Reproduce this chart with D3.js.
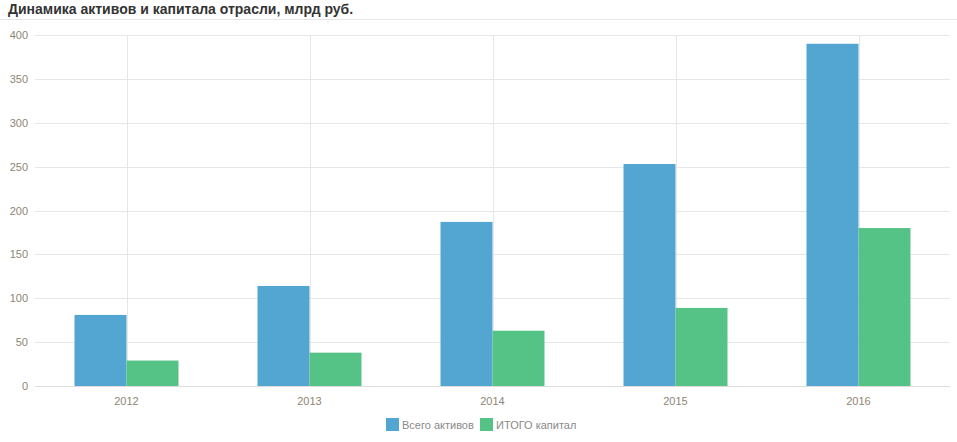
<!DOCTYPE html>
<html><head><meta charset="utf-8">
<script src="https://cdn.jsdelivr.net/npm/d3@7"></script>
<style>body{margin:0;background:#fff;font-family:Tahoma,"Liberation Sans",Arial,sans-serif}</style>
</head><body>
<svg id="c" width="957" height="442"></svg>
<script>
const categories = ["2012","2013","2014","2015","2016"];
const seriesNames = ["Всего активов","ИТОГО капитал"];
const assets = [81,114,187,253,390];
const capital = [29,38,63,89,180];
const yTicks = [0,50,100,150,200,250,300,350,400];
const colors = ["#53a6d1","#56c386"];

(function(){
const svg = d3.select("#c");
svg.append("text").attr("x",8).attr("y",14).text("Динамика активов и капитала отрасли, млрд руб.")
  .attr("font-size",14).attr("font-weight","bold").attr("fill","#333").attr("font-family","Arial, 'Liberation Sans', sans-serif");
svg.append("line").attr("x1",0).attr("x2",957).attr("y1",19.5).attr("y2",19.5).attr("stroke","#e6e6e6");

const pL=35,pR=950,pT=35,pB=386;
const x = d3.scaleBand().domain(categories).range([pL,pR]);
const y = d3.scaleLinear().domain([0,400]).range([pB,pT]);

const g = svg.append("g");
g.selectAll(".hg").data(yTicks).join("line").attr("x1",pL).attr("x2",pR)
  .attr("y1",d=>Math.round(y(d))+0.5).attr("y2",d=>Math.round(y(d))+0.5).attr("stroke","#e6e6e6");
g.selectAll(".vg").data(categories).join("line")
  .attr("x1",d=>Math.round(x(d)+x.bandwidth()/2)+0.5).attr("x2",d=>Math.round(x(d)+x.bandwidth()/2)+0.5)
  .attr("y1",pT).attr("y2",pB).attr("stroke","#e6e6e6");

const bw = 52;
const data = [assets, capital];
data.forEach((vals,si)=>{
  g.selectAll(".b"+si).data(categories).join("rect")
    .attr("x",(d,i)=>x(d)+x.bandwidth()/2 + (si===0?-bw:0))
    .attr("width",bw)
    .attr("y",(d,i)=>y(vals[i]))
    .attr("height",(d,i)=>pB-y(vals[i]))
    .attr("fill",colors[si]);
});
g.append("line").attr("x1",pL).attr("x2",pR).attr("y1",pB+0.5).attr("y2",pB+0.5).attr("stroke","#ddd");

const tickColor="#8f8575";
g.selectAll(".yl").data(yTicks).join("text").attr("x",28).attr("y",d=>y(d)+4)
  .attr("text-anchor","end").attr("font-size",11).attr("fill",tickColor).text(d=>d);
g.selectAll(".xl").data(categories).join("text").attr("x",d=>x(d)+x.bandwidth()/2).attr("y",405)
  .attr("text-anchor","middle").attr("font-size",11).attr("fill",tickColor).text(d=>d);

const leg = svg.append("g");
const lx=[386,480];
seriesNames.forEach((n,i)=>{
  leg.append("rect").attr("x",lx[i]).attr("y",418).attr("width",13).attr("height",13).attr("fill",colors[i]);
  leg.append("text").attr("x",lx[i]+16).attr("y",429).attr("font-size",11).attr("fill","#8a8a8a").text(n);
});
})();
</script>
</body></html>
